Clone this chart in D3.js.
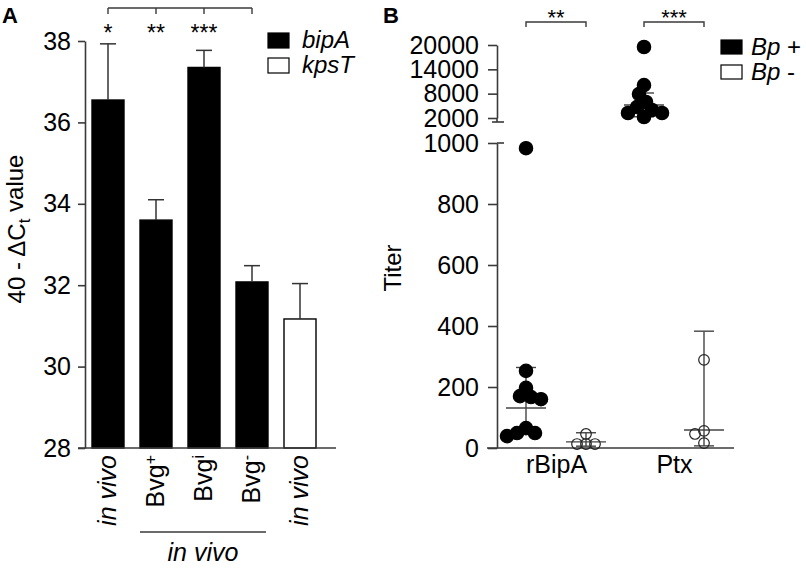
<!DOCTYPE html>
<html>
<head>
<meta charset="utf-8">
<script src="https://cdn.jsdelivr.net/npm/d3@7"></script>
<style>
  body { margin: 0; background: #fff; }
  svg { display: block; font-family: "Liberation Sans", Arial, Helvetica, sans-serif; }
</style>
</head>
<body>
<svg id="chart" width="806" height="572"></svg>
<script>
// ---- panel A data (bar heights + top whisker) ----
const barKeys = ['bipA-invivo', 'bipA-Bvg+', 'bipA-Bvgi', 'bipA-Bvg-', 'kpsT-invivo']
const barGene = ['bipA', 'bipA', 'bipA', 'bipA', 'kpsT']
const barLabelBase = ['in vivo', 'Bvg', 'Bvg', 'Bvg', 'in vivo']
const barLabelSup = ['', '+', 'i', '-', '']
const barMeans = [36.55, 33.6, 37.35, 32.08, 31.17]
const barErrTop = [37.93, 34.1, 37.77, 32.48, 32.04]
const barStars = ['*', '**', '***', '', '']
const yTicksA = [28, 30, 32, 34, 36, 38]

// ---- panel B data (titers per mouse) ----
const antigens = ['rBipA', 'Ptx']
const groups = ['Bp +', 'Bp -']
const rBipAPos = [983, 253, 197, 170, 167, 160, 65, 49, 49, 39]
const rBipANeg = [46, 13, 13, 13]
const ptxPos = [19500, 10100, 7900, 5950, 4700, 3970, 3230, 3230, 2250]
const ptxNeg = [289, 56, 46, 16]
// summary line + whiskers per (antigen, group) in order rBipA+, rBipA-, Ptx+, Ptx-
const summaryMid = [131, 20, 5200, 59]
const summaryLow = [66, 6, 2300, 7]
const summaryHigh = [264, 50, 8165, 383]
const yTicksLow = [0, 200, 400, 600, 800, 1000]
const yTicksHigh = [2000, 8000, 14000, 20000]
const starsB = ['**', '***']

const svg = d3.select('#chart')
const axisColor = '#3a3a3a'

const styleAxis = (g, fontSize) => {
    g.select('.domain').attr('stroke', axisColor).attr('stroke-width', 1.6)
    g.selectAll('.tick line').attr('stroke', axisColor).attr('stroke-width', 1.6)
    g.selectAll('.tick text').attr('fill', '#000').attr('font-size', fontSize)
        .attr('font-family', '"Liberation Sans", Arial, sans-serif')
}

/* ================= PANEL A ================= */
const xA = d3.scaleBand().domain(barKeys).range([76, 332])
    .paddingInner(1 / 3).paddingOuter(1 / 3)
const yA = d3.scaleLinear().domain([28, 38]).range([448, 41])
const pA = svg.append('g')

pA.append('text').attr('x', 2).attr('y', 23).attr('font-size', 22)
    .attr('font-weight', 'bold').text('A')

// bars
pA.selectAll('rect.bar').data(barKeys).join('rect')
    .attr('class', 'bar')
    .attr('x', d => xA(d))
    .attr('width', xA.bandwidth())
    .attr('y', (d, i) => yA(barMeans[i]))
    .attr('height', (d, i) => yA(28) - yA(barMeans[i]))
    .attr('fill', (d, i) => barGene[i] === 'bipA' ? '#000' : '#fff')
    .attr('stroke', '#000').attr('stroke-width', 1.4)

// top whiskers
const whisk = pA.append('g').attr('stroke', '#333').attr('stroke-width', 1.5)
barKeys.forEach((k, i) => {
    const cx = xA(k) + xA.bandwidth() / 2
    whisk.append('line').attr('x1', cx).attr('x2', cx)
        .attr('y1', yA(barMeans[i])).attr('y2', yA(barErrTop[i]))
    whisk.append('line').attr('x1', cx - 8).attr('x2', cx + 8)
        .attr('y1', yA(barErrTop[i])).attr('y2', yA(barErrTop[i]))
})

// y axis
const axA = pA.append('g').attr('transform', 'translate(85,0)')
    .call(d3.axisLeft(yA).tickValues(yTicksA).tickFormat(d3.format('d'))
        .tickSize(7).tickSizeOuter(0).tickPadding(7))
styleAxis(axA, 25)
// x baseline
pA.append('line').attr('x1', 78).attr('x2', 336).attr('y1', 448).attr('y2', 448)
    .attr('stroke', axisColor).attr('stroke-width', 1.6)

// rotated category labels
barKeys.forEach((k, i) => {
    const cx = xA(k) + xA.bandwidth() / 2
    const t = pA.append('text')
        .attr('transform', `translate(${cx},455) rotate(-90)`)
        .attr('text-anchor', 'end').attr('dy', '0.3em').attr('font-size', 25)
        .attr('font-style', barLabelSup[i] ? 'normal' : 'italic')
    t.append('tspan').text(barLabelBase[i])
    if (barLabelSup[i]) {
        t.append('tspan').attr('dy', '-0.45em').attr('font-size', 16).text(barLabelSup[i])
    }
})
// group line + "in vivo"
pA.append('line').attr('x1', 140).attr('x2', 266).attr('y1', 532).attr('y2', 532)
    .attr('stroke', axisColor).attr('stroke-width', 1.4)
pA.append('text').attr('x', 203).attr('y', 561).attr('text-anchor', 'middle')
    .attr('font-size', 25).attr('font-style', 'italic').text('in vivo')

// y label
const ylA = pA.append('text').attr('transform', 'translate(25,229) rotate(-90)')
    .attr('text-anchor', 'middle').attr('font-size', 24)
ylA.append('tspan').text('40 - \u0394C')
ylA.append('tspan').attr('dy', '0.3em').attr('font-size', 17).text('t')
ylA.append('tspan').attr('dy', '-0.3em').text(' value')

// significance bracket
const starIdx = barKeys.map((k, i) => i).filter(i => i < 4)
const bx = starIdx.map(i => xA(barKeys[i]) + xA.bandwidth() / 2)
pA.append('line').attr('x1', bx[0]).attr('x2', bx[bx.length - 1]).attr('y1', 8).attr('y2', 8)
    .attr('stroke', axisColor).attr('stroke-width', 1.4)
bx.forEach(x => {
    pA.append('line').attr('x1', x).attr('x2', x).attr('y1', 8).attr('y2', 14)
        .attr('stroke', axisColor).attr('stroke-width', 1.4)
})
barKeys.forEach((k, i) => {
    if (!barStars[i]) return
    pA.append('text').attr('x', xA(k) + xA.bandwidth() / 2).attr('y', 41)
        .attr('text-anchor', 'middle').attr('font-size', 23).text(barStars[i])
})

// legend A
;['bipA', 'kpsT'].forEach((g, i) => {
    pA.append('rect').attr('x', 268).attr('y', 33 + i * 25).attr('width', 21).attr('height', 15)
        .attr('fill', i === 0 ? '#000' : '#fff').attr('stroke', '#000').attr('stroke-width', 1.2)
    pA.append('text').attr('x', 302).attr('y', 48 + i * 25).attr('font-size', 24)
        .attr('font-style', 'italic').text(g)
})

/* ================= PANEL B ================= */
const pB = svg.append('g')
pB.append('text').attr('x', 383).attr('y', 23).attr('font-size', 22)
    .attr('font-weight', 'bold').text('B')

const xB = d3.scalePoint().domain(antigens).range([556, 674])
const xSub = d3.scalePoint().domain(groups).range([-30, 30])
const yLow = d3.scaleLinear().domain([0, 1000]).range([448, 143])
const yHigh = d3.scaleLinear().domain([2000, 20000]).range([118, 45])
const yB = v => v > 1000 ? yHigh(v) : yLow(v)

// axes (broken)
const axLow = pB.append('g').attr('transform', 'translate(497,0)')
    .call(d3.axisLeft(yLow).tickValues(yTicksLow).tickFormat(d3.format('d'))
        .tickSize(9).tickSizeOuter(0).tickPadding(9))
styleAxis(axLow, 25)
const axHigh = pB.append('g').attr('transform', 'translate(497,0)')
    .call(d3.axisLeft(yHigh).tickValues(yTicksHigh).tickFormat(d3.format('d'))
        .tickSize(9).tickSizeOuter(0).tickPadding(9))
styleAxis(axHigh, 25)
const brk = pB.append('g').attr('stroke', axisColor).attr('stroke-width', 1.6)
brk.append('line').attr('x1', 497).attr('x2', 497).attr('y1', yHigh(2000)).attr('y2', yHigh(2000) + 4)
brk.append('line').attr('x1', 492).attr('x2', 504).attr('y1', yHigh(2000) + 4).attr('y2', yHigh(2000) + 4)
brk.append('line').attr('x1', 497).attr('x2', 504).attr('y1', yLow(1000)).attr('y2', yLow(1000))

// x axis with category labels
const axX = pB.append('g').attr('transform', 'translate(0,448)')
    .call(d3.axisBottom(xB).tickSize(0).tickPadding(7))
axX.select('.domain').remove()
axX.selectAll('.tick text').attr('font-size', 25).attr('fill', '#000')
    .attr('font-family', '"Liberation Sans", Arial, sans-serif')
pB.append('line').attr('x1', 487).attr('x2', 734).attr('y1', 448).attr('y2', 448)
    .attr('stroke', axisColor).attr('stroke-width', 1.6)

pB.append('text').attr('transform', 'translate(401,268) rotate(-90)')
    .attr('text-anchor', 'middle').attr('font-size', 24).text('Titer')

// simple beeswarm so overlapping titers spread sideways
const swarm = (values, cx, minDist) => {
    const placed = []
    const pts = values.map(v => ({ v, y: yB(v) })).sort((a, b) => a.y - b.y)
    pts.forEach(p => {
        for (let k = 0; k < 200; k++) {
            const off = (k % 2 === 0 ? 1 : -1) * Math.ceil(k / 2)
            const ok = placed.every(q => Math.hypot(q.x - (cx + off), q.y - p.y) >= minDist)
            if (ok) { p.x = cx + off; break }
        }
        placed.push(p)
    })
    return placed
}

const sets = [
    { a: 'rBipA', g: 'Bp +', vals: rBipAPos },
    { a: 'rBipA', g: 'Bp -', vals: rBipANeg },
    { a: 'Ptx', g: 'Bp +', vals: ptxPos },
    { a: 'Ptx', g: 'Bp -', vals: ptxNeg },
]

// summary lines (drawn under points)
const sumG = pB.append('g').attr('stroke', '#444').attr('stroke-width', 1.4)
sets.forEach((s, i) => {
    const cx = xB(s.a) + xSub(s.g)
    sumG.append('line').attr('x1', cx).attr('x2', cx)
        .attr('y1', yB(summaryLow[i])).attr('y2', yB(summaryHigh[i]))
    sumG.append('line').attr('x1', cx - 20).attr('x2', cx + 20)
        .attr('y1', yB(summaryMid[i])).attr('y2', yB(summaryMid[i]))
    ;[summaryLow[i], summaryHigh[i]].forEach(v => {
        sumG.append('line').attr('x1', cx - 10).attr('x2', cx + 10)
            .attr('y1', yB(v)).attr('y2', yB(v))
    })
})

// points
sets.forEach(s => {
    const cx = xB(s.a) + xSub(s.g)
    const filled = s.g === 'Bp +'
    const pts = swarm(s.vals, cx, filled ? 10 : 9)
    pB.append('g').selectAll('circle').data(pts).join('circle')
        .attr('cx', d => d.x).attr('cy', d => d.y)
        .attr('r', filled ? 6.7 : 5.3)
        .attr('fill', filled ? '#000' : 'none')
        .attr('stroke', filled ? '#000' : '#222').attr('stroke-width', 1.2)
})

// significance brackets B
antigens.forEach((a, i) => {
    const x1 = xB(a) + xSub('Bp +')
    const x2 = xB(a) + xSub('Bp -')
    pB.append('path').attr('d', `M${x1},27V22H${x2}V27`)
        .attr('fill', 'none').attr('stroke', axisColor).attr('stroke-width', 1.4)
    pB.append('text').attr('x', (x1 + x2) / 2).attr('y', 25).attr('text-anchor', 'middle')
        .attr('font-size', 22).text(starsB[i])
})

// legend B
groups.forEach((g, i) => {
    pB.append('rect').attr('x', 721).attr('y', 40 + i * 25).attr('width', 21).attr('height', 14)
        .attr('fill', i === 0 ? '#000' : '#fff').attr('stroke', '#000').attr('stroke-width', 1.2)
    const t = pB.append('text').attr('x', 751).attr('y', 55 + i * 25).attr('font-size', 24)
    t.append('tspan').attr('font-style', 'italic').text('Bp')
    t.append('tspan').text(g.slice(2))
})
</script>
</body>
</html>
